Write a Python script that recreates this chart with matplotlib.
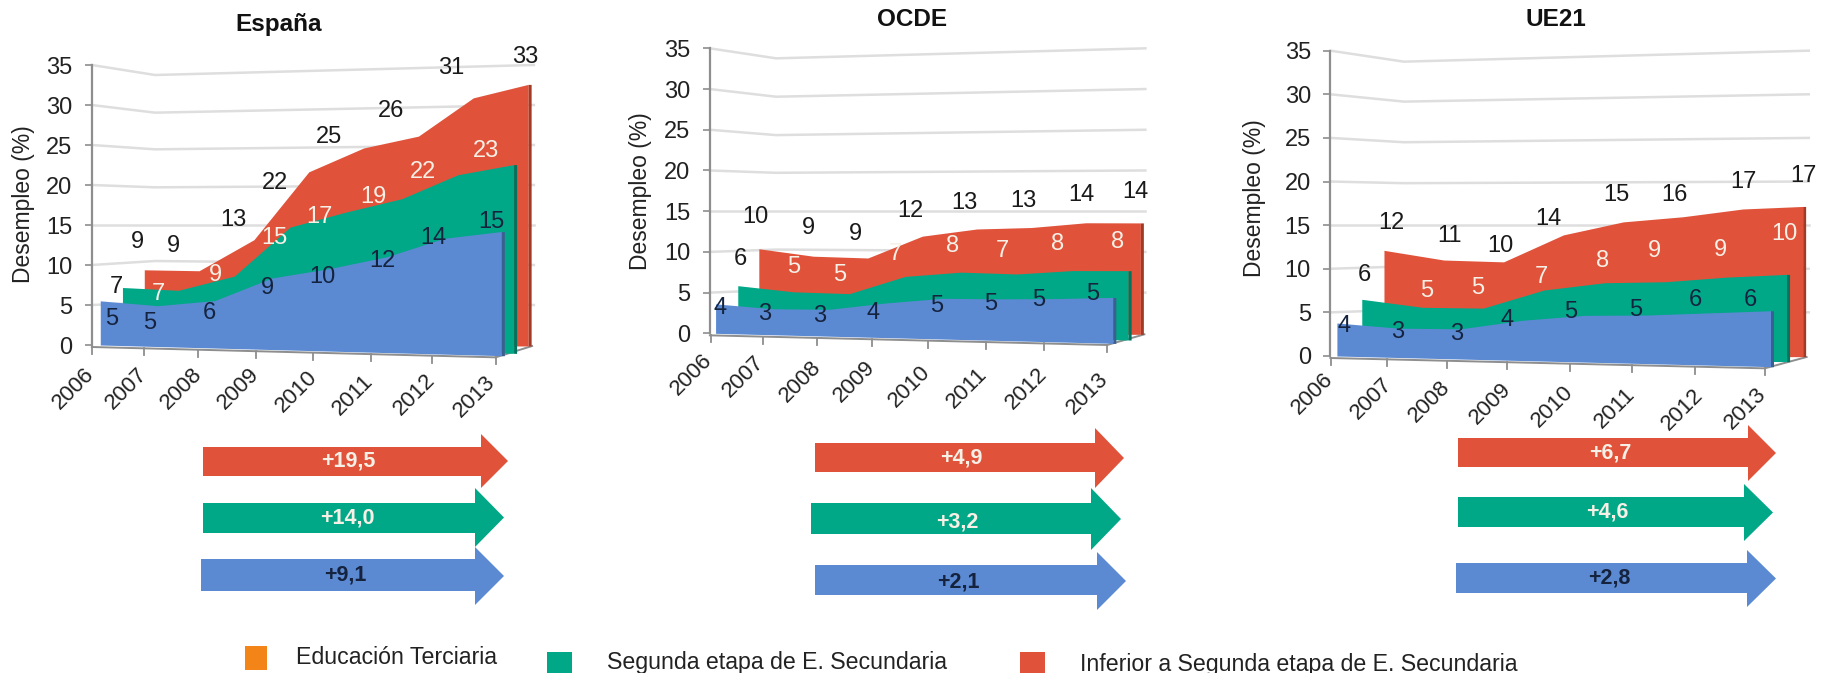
import matplotlib
matplotlib.use('Agg')
import matplotlib.pyplot as plt
from matplotlib.patches import Polygon, Rectangle
from matplotlib.transforms import Affine2D

plt.rcParams['font.family'] = ['Liberation Sans', 'DejaVu Sans']

W, H = 1824, 673
ZX = 2.613   # escala del recorte en x
ZY = 3.0     # escala del recorte en y

anos = ['2006', '2007', '2008', '2009', '2010', '2011', '2012', '2013']
ticks_y = [0, 5, 10, 15, 20, 25, 30, 35]

# datos
esp_azul = [5.3, 4.9, 5.7, 8.6, 9.9, 11.5, 13.9, 14.9]
esp_verde = [7.1, 6.9, 8.8, 15.0, 17.0, 18.8, 21.9, 23.3]
esp_rojo = [9.4, 9.3, 13.2, 21.7, 24.7, 26.2, 31.0, 32.7]
ocde_azul = [3.4, 3.0, 3.1, 4.0, 4.7, 4.8, 5.0, 5.3]
ocde_verde = [5.5, 4.9, 4.8, 6.9, 7.5, 7.4, 7.9, 8.0]
ocde_rojo = [10.4, 9.5, 9.3, 12.0, 12.9, 13.1, 13.7, 13.7]
ue_azul = [3.6, 3.2, 3.3, 4.4, 5.1, 5.3, 5.7, 6.1]
ue_verde = [6.3, 5.5, 5.5, 7.6, 8.5, 8.7, 9.3, 9.7]
ue_rojo = [12.1, 11.0, 10.8, 13.9, 15.4, 16.0, 16.9, 17.2]

# etiquetas de cada serie
esp_et_azul = ['5', '5', '6', '9', '10', '12', '14', '15']
esp_et_verde = ['7', '7', '9', '15', '17', '19', '22', '23']
esp_et_rojo = ['9', '9', '13', '22', '25', '26', '31', '33']
ocde_et_azul = ['4', '3', '3', '4', '5', '5', '5', '5']
ocde_et_verde = ['6', '5', '5', '7', '8', '7', '8', '8']
ocde_et_rojo = ['10', '9', '9', '12', '13', '13', '14', '14']
ue_et_azul = ['4', '3', '3', '4', '5', '5', '6', '6']
ue_et_verde = ['6', '5', '5', '7', '8', '9', '9', '10']
ue_et_rojo = ['12', '11', '10', '14', '15', '16', '17', '17']

flechas_esp = ['+19,5', '+14,0', '+9,1']
flechas_ocde = ['+4,9', '+3,2', '+2,1']
flechas_ue = ['+6,7', '+4,6', '+2,8']

leyenda = ['Educación Terciaria', 'Segunda etapa de E. Secundaria',
           'Inferior a Segunda etapa de E. Secundaria']

ROJO = '#E0533A'
VERDE = '#00A887'
AZUL = '#5B8AD2'
NARANJA = '#F28418'
ROJO_OSC = '#A33A26'
VERDE_OSC = '#00745E'
AZUL_OSC = '#3C5F92'
GRIS = '#8E8E8E'
REJILLA = '#DEDEDE'
OSCURO = '#15233F'
CLARO = '#F6F0E6'

# colocacion de cada panel, en pixeles del recorte
paneles = [
    dict(titulo='España', org=0, tit=(728, 75),
         eje=240, y0=1035, y35=195,
         azul=esp_azul, verde=esp_verde, rojo=esp_rojo,
         et_azul=esp_et_azul, et_verde=esp_et_verde, et_rojo=esp_et_rojo,
         capa_azul=(262, 1310, 1035, 1067, 25.0),
         capa_verde=(320, 1342, 1035, 1060, 24.3),
         capa_rojo=(377, 1380, 1035, 1038, 24.0),
         pos_azul=[(293, 958), (390, 970), (547, 940), (700, 865), (842, 830), (998, 782), (1133, 715), (1283, 665)],
         pos_verde=[(305, 860), (415, 882), (562, 825), (718, 715), (835, 650), (975, 590), (1105, 515), (1270, 452)],
         pos_rojo=[(360, 725), (452, 737), (610, 660), (718, 550), (860, 410), (1022, 333), (1178, 205), (1372, 170)],
         ticks_x=[240, 377, 518, 668, 817, 970, 1128, 1295],
         pos_anos=[(193, 1165), (330, 1165), (475, 1165), (622, 1165), (775, 1175), (922, 1185), (1082, 1185), (1240, 1190)],
         base_fin=1072, rej_fin=1395, doblez=405,
         caida=[-8, -12, 0, 7, 13, 23, 30], ylab=(62, 612)),
    dict(titulo='OCDE', org=600, tit=(815, 58),
         eje=287, y0=1000, y35=145,
         azul=ocde_azul, verde=ocde_verde, rojo=ocde_rojo,
         et_azul=ocde_et_azul, et_verde=ocde_et_verde, et_rojo=ocde_et_rojo,
         capa_azul=(302, 1340, 1000, 1030, 26.0),
         capa_verde=(360, 1380, 1000, 1020, 26.0),
         capa_rojo=(415, 1412, 1000, 1003, 24.4),
         pos_azul=[(313, 925), (430, 942), (575, 948), (713, 938), (880, 918), (1022, 912), (1145, 900), (1288, 882)],
         pos_verde=[(368, 778), (505, 802), (627, 825), (772, 762), (920, 738), (1052, 752), (1195, 732), (1352, 725)],
         pos_rojo=[(407, 650), (545, 685), (668, 702), (810, 632), (952, 608), (1105, 603), (1257, 585), (1398, 575)],
         ticks_x=[290, 425, 567, 710, 856, 1008, 1161, 1325],
         pos_anos=[(238, 1125), (375, 1130), (525, 1145), (665, 1145), (810, 1160), (960, 1165), (1115, 1165), (1275, 1180)],
         base_fin=1035, rej_fin=1425, doblez=460,
         caida=[-8, -7, 0, 7, 16, 23, 30], ylab=(105, 572)),
    dict(titulo='UE21', org=1224, tit=(868, 58),
         eje=278, y0=1068, y35=152,
         azul=ue_azul, verde=ue_verde, rojo=ue_rojo,
         et_azul=ue_et_azul, et_verde=ue_et_verde, et_rojo=ue_et_rojo,
         capa_azul=(295, 1428, 1068, 1100, 27.5),
         capa_verde=(360, 1470, 1068, 1085, 27.0),
         capa_rojo=(418, 1512, 1068, 1070, 26.2),
         pos_azul=[(313, 978), (455, 995), (607, 1002), (740, 960), (907, 937), (1075, 930), (1232, 900), (1375, 900)],
         pos_verde=[(368, 825), (530, 872), (662, 865), (830, 830), (988, 783), (1125, 753), (1298, 750), (1465, 703)],
         pos_rojo=[(437, 668), (590, 708), (722, 738), (847, 658), (1025, 585), (1177, 585), (1358, 545), (1515, 527)],
         ticks_x=[280, 425, 583, 740, 903, 1065, 1232, 1413],
         pos_anos=[(232, 1180), (385, 1195), (538, 1205), (695, 1210), (858, 1220), (1022, 1225), (1198, 1230), (1362, 1225)],
         base_fin=1105, rej_fin=1528, doblez=470,
         caida=[-8, -7, 0, 5, 13, 22, 33], ylab=(80, 595)),
]

# flechas en pixeles de la imagen: inicio, punta, base de la cabeza, y del cuerpo, y de la cabeza
flechas = [
    (flechas_esp, [(203, 508, 481, 447, 476, 434, 488), (203, 504, 475, 503, 533, 488, 547), (201, 504, 475, 559, 591, 547, 605)],
     [(348, 461), (347, 518), (345, 575)]),
    (flechas_ocde, [(815, 1124, 1095, 443, 472, 428, 488), (811, 1121, 1091, 503, 534, 488, 550), (815, 1126, 1097, 565, 595, 552, 610)],
     [(961, 458), (957, 522), (958, 582)]),
    (flechas_ue, [(1458, 1776, 1748, 438, 467, 425, 481), (1458, 1773, 1744, 497, 527, 484, 541), (1456, 1776, 1747, 563, 593, 550, 607)],
     [(1610, 453), (1607, 512), (1609, 578)]),
]

fig = plt.figure(figsize=(W / 100, H / 100), dpi=100, facecolor='white')
# pixeles de la imagen (y hacia abajo) a pixeles de pantalla
pantalla = Affine2D().scale(1, -1).translate(0, H)


def capa(org, c):
    # pasa (indice de ano, valor) a pixeles, con la base inclinada de cada serie
    x0, x1, b0, b1, u = c
    x0 = org + x0 / ZX
    x1 = org + x1 / ZX
    return Affine2D.from_values((x1 - x0) / 7, (b1 - b0) / ZY / 7, 0, -u / ZY, x0, b0 / ZY) + pantalla


for p in paneles:
    org = p['org']
    xe = org + p['eje'] / ZX
    y0 = p['y0'] / ZY
    y35 = p['y35'] / ZY
    ancho = org + p['rej_fin'] / ZX - xe

    ax = fig.add_axes([xe / W, (H - y0) / H, ancho / W, (y0 - y35) / H])
    ax.patch.set_visible(False)
    ax.set_ylim(0, 35)
    ax.set_xlim(0, 1)
    ax.set_yticks(ticks_y)
    ax.set_xticks([])
    for lado in ['top', 'right', 'bottom']:
        ax.spines[lado].set_visible(False)
    ax.spines['left'].set_color(GRIS)
    ax.spines['left'].set_linewidth(1.6)
    ax.tick_params(axis='y', length=5, width=1.2, color=GRIS, pad=9, labelsize=17, labelcolor='#222222')
    ax.set_ylabel('Desempleo (%)', fontsize=16.5, color='#222222', va='center')
    xl, yl = p['ylab']
    ax.yaxis.set_label_coords((org + xl / ZX - xe) / ancho, (y0 - yl / ZY) / (y0 - y35))

    # rejilla de la pared del fondo
    unidad = (y0 - y35) / 35
    xb = org + p['doblez'] / ZX
    xf = org + p['rej_fin'] / ZX
    for v, c in zip(ticks_y[1:], p['caida']):
        yv = y0 - v * unidad
        ax.plot([xe, xb, xf], [yv, yv + c / ZY, yv], transform=pantalla, color=REJILLA,
                lw=1.8, clip_on=False, zorder=1)

    # suelo y marcas del eje x
    tx = [org + t / ZX for t in p['ticks_x']]
    yb_ini = y0 + 2
    yb_fin = p['base_fin'] / ZY
    ax.plot([xe, tx[-1]], [yb_ini, yb_fin], transform=pantalla, color=GRIS, lw=1.4, clip_on=False, zorder=2)
    x_esq = org + p['capa_rojo'][1] / ZX + 4
    ax.plot([tx[-1], x_esq], [yb_fin, y0 + 1], transform=pantalla, color=GRIS, lw=1.4, clip_on=False, zorder=2)
    for t, an, (lx, ly) in zip(tx, anos, p['pos_anos']):
        yt = yb_ini + (t - xe) / (tx[-1] - xe) * (yb_fin - yb_ini)
        ax.plot([t, t], [yt, yt + 7], transform=pantalla, color=GRIS, lw=1.3, clip_on=False, zorder=2)
        ax.text(org + lx / ZX, ly / ZY, an, transform=pantalla, rotation=45, ha='center', va='center',
                rotation_mode='anchor', fontsize=16, color='#222222', clip_on=False)

    # areas, de atras hacia delante
    for nom, col, osc, z in [('rojo', ROJO, ROJO_OSC, 3), ('verde', VERDE, VERDE_OSC, 4), ('azul', AZUL, AZUL_OSC, 5)]:
        c = p['capa_' + nom]
        tr = capa(org, c)
        dx = 3.0 / ((c[1] - c[0]) / ZX / 7)
        vals = p[nom]
        ax.fill_between(range(8), 0, vals, transform=tr, color=col, lw=0, clip_on=False, zorder=z)
        ax.fill_between([7, 7 + dx], 0, [vals[-1], vals[-1]], transform=tr, color=osc, lw=0, clip_on=False, zorder=z)

    # etiquetas de datos
    for et, (lx, ly) in zip(p['et_rojo'], p['pos_rojo']):
        ax.text(org + lx / ZX, ly / ZY, et, transform=pantalla, ha='center', va='center', fontsize=17,
                color='#1A1A1A', zorder=8, clip_on=False)
    for i, (et, (lx, ly)) in enumerate(zip(p['et_verde'], p['pos_verde'])):
        # la primera etiqueta verde queda fuera del area, en negro
        ax.text(org + lx / ZX, ly / ZY, et, transform=pantalla, ha='center', va='center', fontsize=17,
                color='#1A1A1A' if i == 0 else CLARO, zorder=8, clip_on=False)
    for et, (lx, ly) in zip(p['et_azul'], p['pos_azul']):
        ax.text(org + lx / ZX, ly / ZY, et, transform=pantalla, ha='center', va='center', fontsize=17,
                color=OSCURO, zorder=8, clip_on=False)

    ax.text(org + p['tit'][0] / ZX, p['tit'][1] / ZY, p['titulo'], transform=pantalla, ha='center', va='center',
            fontsize=17.5, fontweight='bold', color='#111111', clip_on=False)

# capa de toda la figura para flechas y leyenda
fondo = fig.add_axes([0, 0, 1, 1], zorder=10)
fondo.set_xlim(0, W)
fondo.set_ylim(H, 0)
fondo.axis('off')

for textos, geos, centros in flechas:
    for txt, g, cen, col, ctxt in zip(textos, geos, centros, [ROJO, VERDE, AZUL], [CLARO, CLARO, OSCURO]):
        x0, xp, xc, s0, s1, c0, c1 = g
        ym = (c0 + c1) / 2
        fondo.add_patch(Polygon([(x0, s0), (xc, s0), (xc, c0), (xp, ym), (xc, c1), (xc, s1), (x0, s1)],
                                closed=True, color=col, lw=0))
        fondo.text(cen[0], cen[1], txt, ha='center', va='center', fontsize=15.5, fontweight='bold', color=ctxt)

cuadros = [(245, 646, 22, 24, NARANJA), (547, 652, 25, 21, VERDE), (1020, 652, 25, 21, ROJO)]
textos_ley = [(296, 658), (607, 662), (1080, 665)]
for et, (x, y, an, al, col), (tx_, ty_) in zip(leyenda, cuadros, textos_ley):
    fondo.add_patch(Rectangle((x, y), an, al, color=col, lw=0))
    fondo.text(tx_, ty_, et, ha='left', va='center', fontsize=16.7, color='#222222')

fig.savefig('out.png', dpi=100)
